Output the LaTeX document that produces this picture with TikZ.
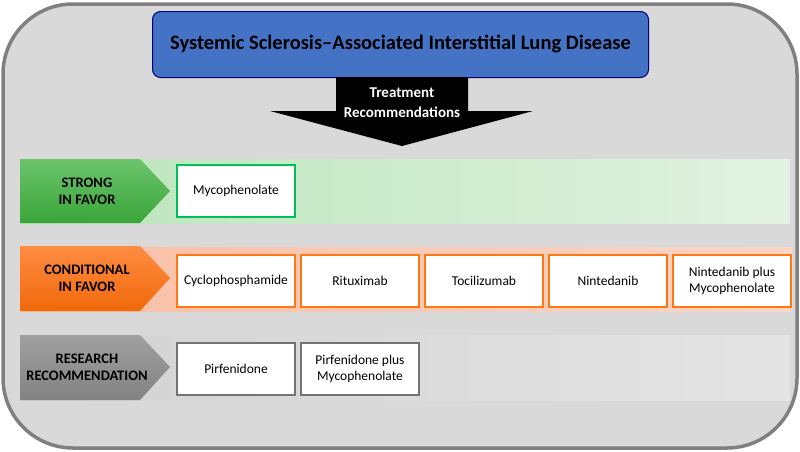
\documentclass[tikz,border=0pt]{standalone}
\usepackage{fontspec}
\setmainfont{Carlito}
\begin{document}
\begin{tikzpicture}[x=1pt,y=-1pt,
  box/.style={draw, line width=2pt, fill=white, minimum width=118pt, minimum height=52pt, align=center, font=\fontsize{13.5}{16}\selectfont, anchor=north west, inner sep=2pt},
  lbl/.style={font=\bfseries\fontsize{14.5}{17}\selectfont, align=center, text=black},
]
\useasboundingbox (0,0) rectangle (800,451);
% outer frame
\draw[line width=3.5pt, draw=black!50, fill=black!15, rounded corners=70pt] (3,4) rectangle (797,448);
% title
\node[draw=blue!45!black, line width=1pt, fill={rgb,255:red,68;green,114;blue,196}, rounded corners=8pt, minimum width=496pt, minimum height=66pt, anchor=north west, font=\bfseries\fontsize{20.5}{24}\selectfont] (title) at (152,11) {Systemic Sclerosis--Associated Interstitial Lung Disease};
% black arrow
\fill[black] (336,77) -- (468,77) -- (468,111) -- (533,111) -- (402,146) -- (270,111) -- (336,111) -- cycle;
\node[text=white, font=\bfseries\fontsize{15}{20}\selectfont, align=center] (tr) at (402,103) {Treatment\\Recommendations};
% bands
\shade[left color={rgb,255:red,185;green,229;blue,185}, right color={rgb,255:red,226;green,242;blue,226}] (20,159) rectangle (790,223);
\shade[left color={rgb,255:red,250;green,190;blue,165}, right color={rgb,255:red,252;green,214;blue,198}] (20,247) rectangle (792,311);
\shade[left color={rgb,255:red,210;green,210;blue,210}, right color={rgb,255:red,228;green,228;blue,228}] (20,335) rectangle (790,400);
% labels
\shade[top color={rgb,255:red,108;green,196;blue,108}, bottom color={rgb,255:red,58;green,165;blue,58}] (20,159) -- (140,159) -- (170,191) -- (140,223) -- (20,223) -- cycle;
\shade[top color={rgb,255:red,255;green,140;blue,66}, bottom color={rgb,255:red,240;green,105;blue,10}] (20,246) -- (140,246) -- (170,278) -- (140,311) -- (20,311) -- cycle;
\shade[top color={rgb,255:red,160;green,160;blue,160}, bottom color={rgb,255:red,130;green,130;blue,130}] (20,335) -- (140,335) -- (170,367) -- (140,400) -- (20,400) -- cycle;
\node[lbl] (strong) at (87,191) {STRONG\\IN FAVOR};
\node[lbl] (cond) at (87,278) {CONDITIONAL\\IN FAVOR};
\node[lbl] (res) at (87,367) {RESEARCH\\RECOMMENDATION};
% boxes
\node[box, draw={rgb,255:red,0;green,190;blue,90}] (myco) at (176,164) {Mycophenolate};
\node[box, draw={rgb,255:red,255;green,120;blue,20}] (cyc) at (176,254) {Cyclophosphamide};
\node[box, draw={rgb,255:red,255;green,120;blue,20}] (rit) at (300,254) {Rituximab};
\node[box, draw={rgb,255:red,255;green,120;blue,20}] (toc) at (424,254) {Tocilizumab};
\node[box, draw={rgb,255:red,255;green,120;blue,20}] (nin) at (548,254) {Nintedanib};
\node[box, draw={rgb,255:red,255;green,120;blue,20}] (ninm) at (672,254) {Nintedanib plus\\Mycophenolate};
\node[box, draw=black!55] (pir) at (176,342) {Pirfenidone};
\node[box, draw=black!55] (pirm) at (300,342) {Pirfenidone plus\\Mycophenolate};
\end{tikzpicture}
\end{document}
